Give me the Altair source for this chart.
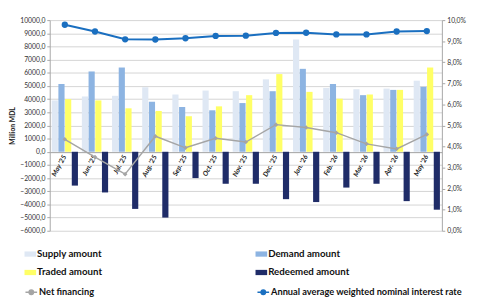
import altair as alt
import pandas as pd

months = ["May '25", "Jun. '25", "Jul. '25", "Aug. '25", "Sep. '25", "Oct. '25", "Nov. '25",
          "Dec. '25", "Jan. '26", "Feb. '26", "Mar. '26", "Apr. '26", "May '26"]
supply = [3900, 4200, 4250, 4900, 4350, 4650, 4600, 5500, 8530, 4850, 4750, 4800, 5400]
demand = [5150, 6100, 6400, 3800, 3400, 3150, 3700, 4600, 6300, 5150, 4300, 4700, 4930]
traded = [4000, 3900, 3300, 3100, 2700, 3450, 4300, 5900, 4550, 4030, 4350, 4700, 6400]
redeemed = [-2570, -3090, -4340, -5000, -2000, -2430, -2430, -3600, -3820, -2720, -2430, -3750, -4400]
net = [950, -400, -1700, 1180, 300, 1030, 740, 2060, 1840, 1450, 600, 220, 1320]
rate = [0.0978, 0.0946, 0.0909, 0.0908, 0.0914, 0.0925, 0.0926, 0.0939, 0.0940, 0.0932, 0.0932, 0.0946, 0.0948]

bar_series = ["Supply amount", "Demand amount", "Traded amount", "Redeemed amount"]
bar_colors = ["#dfe8f4", "#8db4e2", "#ffff66", "#1f2c68"]
# legend is laid out column by column, so list it column-wise
legend_order = ["Supply amount", "Traded amount", "Demand amount", "Redeemed amount"]
legend_colors = ["#dfe8f4", "#ffff66", "#8db4e2", "#1f2c68"]
line_series = ["Net financing", "Annual average weighted nominal interest rate"]
line_colors = ["#a5a5a5", "#1a6fc0"]

rows = []
for i, m in enumerate(months):
    for s, vals in zip(bar_series, [supply, demand, traded, redeemed]):
        rows.append({"month": m, "series": s, "value": vals[i]})
bars_df = pd.DataFrame(rows)
net_df = pd.DataFrame({"month": months, "value": net, "line": line_series[0]})
rate_df = pd.DataFrame({"month": months, "rate": rate, "line": line_series[1]})

FONT = "Lato"

x_enc = alt.X(
    "month:N", sort=months,
    scale=alt.Scale(paddingInner=0.13, paddingOuter=0.065),
    axis=alt.Axis(title=None, orient="bottom", offset=-81, labelAngle=-62,
                  labelAlign="right", labelBaseline="middle", labelFont=FONT,
                  labelFontSize=7, labelFontWeight="bold", labelFontStyle="italic",
                  labelColor="#222222", labelPadding=3, ticks=False,
                  domainColor="#a6a6a6", labelOverlap=False, grid=False),
)

y_left = alt.Y(
    "value:Q",
    scale=alt.Scale(domain=[-6000, 10000], nice=False, zero=False),
    axis=alt.Axis(title="Million MDL", values=list(range(-6000, 10001, 1000)),
                  labelExpr="replace(format(datum.value,'.1f'),'.',',')",
                  grid=True, gridColor="#d4d4d4", domainColor="#a6a6a6",
                  tickColor="#a6a6a6", tickSize=3, labelFont=FONT, labelFontSize=7,
                  labelColor="#333333", titleFont=FONT, titleFontSize=7,
                  titleFontWeight="bold", titleColor="#222222", titlePadding=4),
)

y_right = alt.Y(
    "rate:Q",
    scale=alt.Scale(domain=[0, 0.1], nice=False, zero=True),
    axis=alt.Axis(orient="right", title=None, values=[i / 100 for i in range(11)],
                  labelExpr="replace(format(datum.value,'.1%'),'.',',')",
                  grid=False, domainColor="#a6a6a6", tickColor="#a6a6a6", tickSize=3,
                  labelFont=FONT, labelFontSize=7, labelColor="#333333", labelPadding=2),
)

bars = alt.Chart(bars_df).mark_bar().encode(
    x=x_enc,
    xOffset=alt.XOffset("series:N", sort=bar_series, scale=alt.Scale(domain=bar_series, paddingInner=0.08)),
    y=y_left,
    color=alt.Color("series:N",
                    scale=alt.Scale(domain=legend_order, range=legend_colors),
                    legend=alt.Legend(title=None, orient="none", legendX=-26, legendY=235,
                                      columns=2, columnPadding=158, rowPadding=8,
                                      symbolType="M-1,-0.45H1V0.45H-1Z", symbolSize=144,
                                      symbolStrokeWidth=0, labelFont=FONT, labelFontSize=10,
                                      labelFontWeight="bold", labelColor="#111111",
                                      labelOffset=1)),
)

line_legend = alt.Legend(title=None, orient="none", legendX=-26, legendY=273,
                         columns=2, columnPadding=165,
                         symbolType="M-1,0H1M-0.38,0A0.38,0.38,0,1,0,0.38,0A0.38,0.38,0,1,0,-0.38,0",
                         symbolSize=144, symbolStrokeWidth=1.5, symbolOpacity=1,
                         labelFont=FONT, labelFontSize=9.5,
                         labelFontWeight="bold", labelColor="#111111", labelOffset=1,
                         labelLimit=300)
line_scale = alt.Scale(domain=line_series, range=line_colors)
stroke_enc = alt.Stroke("line:N", scale=line_scale, legend=line_legend)
fill_enc = alt.Fill("line:N", scale=line_scale, legend=line_legend)

net_line = alt.Chart(net_df).mark_line(strokeWidth=1.5).encode(x=x_enc, y=y_left, stroke=stroke_enc)
net_pts = alt.Chart(net_df).mark_point(shape="diamond", filled=True, size=22, opacity=1).encode(
    x=x_enc, y=y_left, fill=fill_enc)

rate_line = alt.Chart(rate_df).mark_line(strokeWidth=2).encode(x=x_enc, y=y_right, stroke=stroke_enc)
rate_pts = alt.Chart(rate_df).mark_point(shape="circle", filled=True, size=42, opacity=1).encode(
    x=x_enc, y=y_right, fill=fill_enc)

left = alt.layer(bars, net_line, net_pts)
right = alt.layer(rate_line, rate_pts)

chart = alt.layer(left, right).resolve_scale(y="independent").properties(
    width=404, height=217,
    autosize=alt.AutoSizeParams(type="none"),
    padding={"left": 43, "top": 8, "right": 30, "bottom": 72},
    background="white",
).configure_view(stroke=None)

chart.save("out.html", embed_options={"renderer": "svg", "actions": False})
